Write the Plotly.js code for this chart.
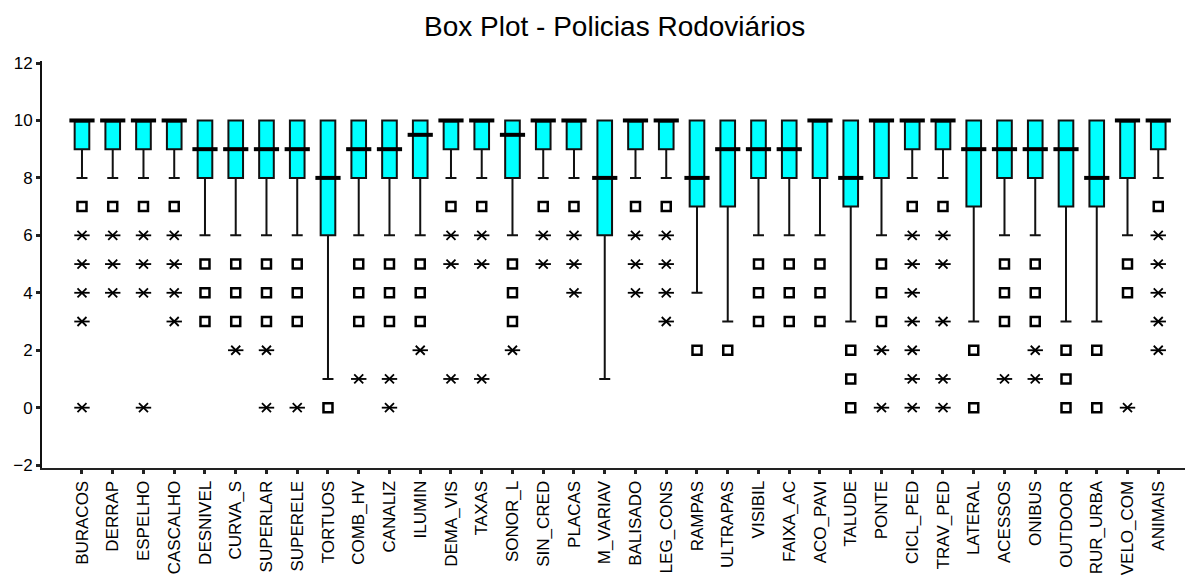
<!DOCTYPE html>
<html>
<head>
<meta charset="utf-8">
<script src="https://cdn.plot.ly/plotly-3.0.1.min.js"></script>
<style>html,body{margin:0;padding:0;background:#fff;}#chart{width:1202px;height:583px;}</style>
</head>
<body>
<div id="chart"></div>
<script>
const categories = ["BURACOS","DERRAP","ESPELHO","CASCALHO","DESNIVEL","CURVA_S","SUPERLAR","SUPERELE","TORTUOS","COMB_HV","CANALIZ","ILUMIN","DEMA_VIS","TAXAS","SONOR_L","SIN_CRED","PLACAS","M_VARIAV","BALISADO","LEG_CONS","RAMPAS","ULTRAPAS","VISIBIL","FAIXA_AC","ACO_PAVI","TALUDE","PONTE","CICL_PED","TRAV_PED","LATERAL","ACESSOS","ONIBUS","OUTDOOR","RUR_URBA","VELO_COM","ANIMAIS"];
const q1Values     = [9,9,9,9,8,8,8,8,6,8,8,8,9,9,8,9,9,6,9,9,7,7,8,8,8,7,8,9,9,7,8,8,7,7,8,9];
const medianValues = [10,10,10,10,9,9,9,9,8,9,9,9.5,10,10,9.5,10,10,8,10,10,8,9,9,9,10,8,10,10,10,9,9,9,9,8,10,10];
const q3Values     = [10,10,10,10,10,10,10,10,10,10,10,10,10,10,10,10,10,10,10,10,10,10,10,10,10,10,10,10,10,10,10,10,10,10,10,10];
const lowerWhisker = [8,8,8,8,6,6,6,6,1,6,6,6,8,8,6,8,8,1,8,8,4,3,6,6,6,3,6,8,8,3,6,6,3,3,6,8];
const upperWhisker = [10,10,10,10,10,10,10,10,10,10,10,10,10,10,10,10,10,10,10,10,10,10,10,10,10,10,10,10,10,10,10,10,10,10,10,10];
const mildOutliers = [[7],[7],[7],[7],[5,4,3],[5,4,3],[5,4,3],[5,4,3],[0],[5,4,3],[5,4,3],[5,4,3],[7],[7],[5,4,3],[7],[7],[],[7],[7],[2],[2],[5,4,3],[5,4,3],[5,4,3],[2,1,0],[5,4,3],[7],[7],[2,0],[5,4,3],[5,4,3],[2,1,0],[2,0],[5,4],[7]];
const extremeOutliers = [[6,5,4,3,0],[6,5,4],[6,5,4,0],[6,5,4,3],[],[2],[2,0],[0],[],[1],[1,0],[2],[6,5,1],[6,5,1],[2],[6,5],[6,5,4],[],[6,5,4],[6,5,4,3],[],[],[],[],[],[],[2,0],[6,5,4,3,2,1,0],[6,5,3,1,0],[],[1],[2,1],[],[],[0],[6,5,4,3,2]];
const yTicks = [-2,0,2,4,6,8,10,12];
const titleText = "Box Plot - Policias Rodoviários";

function flatten(groups){
  const xs=[], ys=[];
  groups.forEach((g,i)=>g.forEach(v=>{xs.push(categories[i]); ys.push(v);}));
  return {x:xs,y:ys};
}
const mild = flatten(mildOutliers);
const ext = flatten(extremeOutliers);

const FONT = "Liberation Sans, Arial, Helvetica, sans-serif";

const traces = [
  {
    type:"box", x:categories, q1:q1Values, median:medianValues, q3:q3Values,
    lowerfence:lowerWhisker, upperfence:upperWhisker,
    boxpoints:false, fillcolor:"#00FFFF",
    line:{color:"#111111", width:2}, whiskerwidth:0.75,
    hoverinfo:"skip", showlegend:false
  },
  {
    type:"scatter", mode:"markers", x:categories, y:medianValues,
    marker:{symbol:"line-ew-open", size:18, color:"#000", line:{color:"#000", width:4}},
    hoverinfo:"skip", showlegend:false
  },
  {
    type:"scatter", mode:"markers", x:mild.x, y:mild.y,
    marker:{symbol:"square-open", size:9, color:"#000", line:{color:"#000", width:2.5}},
    hoverinfo:"skip", showlegend:false
  },
  {
    type:"scatter", mode:"markers", x:ext.x, y:ext.y,
    marker:{symbol:"x-thin-open", size:9, color:"#000", line:{color:"#000", width:1.8}},
    hoverinfo:"skip", showlegend:false
  },
  {
    type:"scatter", mode:"markers", x:ext.x, y:ext.y,
    marker:{symbol:"line-ew-open", size:11, color:"#000", line:{color:"#000", width:1.8}},
    hoverinfo:"skip", showlegend:false
  }
];

const layout = {
  width:1202, height:583,
  margin:{l:42, r:17, t:61, b:115, pad:0},
  paper_bgcolor:"#fff", plot_bgcolor:"#fff",
  font:{family:FONT, color:"#000"},
  title:{text:titleText, font:{family:FONT, size:28, color:"#000"}, x:0.501, xref:"paper", y:0.955, yref:"container", yanchor:"middle"},
  boxgap:0.32,
  xaxis:{
    type:"category", range:[-1.3, 35.87], showgrid:false, zeroline:false,
    showline:true, linecolor:"#222", linewidth:2,
    ticks:"outside", ticklen:4, tickwidth:3, tickcolor:"#222",
    tickangle:-90, tickfont:{family:FONT, size:17, color:"#000"}
  },
  yaxis:{
    range:[-2.10, 12.07], tickvals:yTicks, showgrid:false, zeroline:false,
    showline:true, linecolor:"#111", linewidth:2,
    ticks:"outside", ticklen:4, tickwidth:3, tickcolor:"#222",
    tickfont:{family:FONT, size:17, color:"#000"}
  }
};

Plotly.newPlot("chart", traces, layout, {displayModeBar:false, staticPlot:true});
</script>
</body>
</html>
